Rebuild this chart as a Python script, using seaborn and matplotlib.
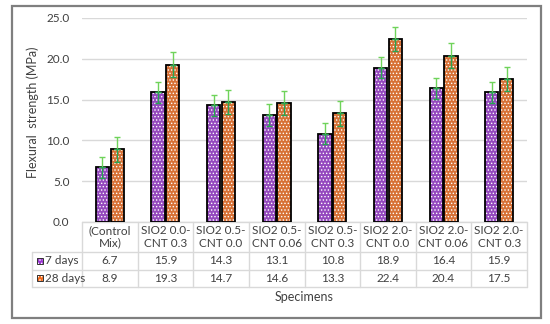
# Flexural strength chart with Excel-style data table
import pandas as pd
import matplotlib.pyplot as plt
import seaborn as sns
from matplotlib.patches import Rectangle

# Data
specimens = ['(Control\nMix)', 'SIO2 0.0-\nCNT 0.3', 'SIO2 0.5-\nCNT 0.0', 'SIO2 0.5-\nCNT 0.06',
             'SIO2 0.5-\nCNT 0.3', 'SIO2 2.0-\nCNT 0.0', 'SIO2 2.0-\nCNT 0.06', 'SIO2 2.0-\nCNT 0.3']
days7 = [6.7, 15.9, 14.3, 13.1, 10.8, 18.9, 16.4, 15.9]
days28 = [8.9, 19.3, 14.7, 14.6, 13.3, 22.4, 20.4, 17.5]
err7 = [1.3, 1.3, 1.3, 1.3, 1.3, 1.3, 1.3, 1.3]
err28 = [1.5, 1.5, 1.5, 1.5, 1.5, 1.5, 1.5, 1.5]
series = ['7 days', '28 days']
colors = ['#9A35D2', '#F26A1B']
yticks = [0, 5, 10, 15, 20, 25]

sns.set_style('white')
plt.rcParams['font.family'] = ['Lato', 'DejaVu Sans']
plt.rcParams['hatch.linewidth'] = 0.6
txt = '#404040'
grid = '#D9D9D9'
fs = 8.5

df = pd.DataFrame({
    'Specimen': specimens * 2,
    'Age': [series[0]] * 8 + [series[1]] * 8,
    'Strength': days7 + days28,
})

fig = plt.figure(figsize=(5.5, 3.24), dpi=100)
ax = fig.add_axes([82 / 550, 1 - 222 / 324, 445 / 550, 204 / 324])

sns.barplot(data=df, x='Specimen', y='Strength', hue='Age', palette=colors,
            width=0.53, gap=0.1, errorbar=None, legend=False, ax=ax, zorder=2)

# hatch pattern in white, then black outline on top
for p in list(ax.patches):
    p.set_hatch('.....')
    p.set_edgecolor('white')
    p.set_linewidth(0)
    ax.add_patch(Rectangle(p.get_xy(), p.get_width(), p.get_height(), fill=False,
                           edgecolor='black', lw=1.3, zorder=3))

# error bars (two shades of green like the original)
for i, (vals, errs) in enumerate([(days7, err7), (days28, err28)]):
    bars = ax.containers[i]
    xs = [b.get_x() + b.get_width() / 2 for b in bars]
    ax.errorbar(xs, vals, yerr=[[0] * 8, errs], fmt='none', ecolor='#6FD35A',
                elinewidth=1, capsize=2.2, capthick=1, zorder=4)
    ax.errorbar(xs, vals, yerr=[errs, [0] * 8], fmt='none', ecolor='#27A552',
                elinewidth=1, capsize=2.2, capthick=1, zorder=4)

ax.set_ylim(0, 25)
ax.set_xlim(-0.5, 7.5)
ax.set_yticks(yticks)
ax.set_yticklabels([f'{v:.1f}' for v in yticks], color=txt, fontsize=fs)
ax.tick_params(axis='y', length=0, pad=9)
ax.set_xticks([])
ax.set_xlabel('')
ax.set_ylabel('')
ax.yaxis.grid(True, color=grid, lw=1, zorder=0)
ax.set_axisbelow(True)
for s in ['top', 'right', 'left', 'bottom']:
    ax.spines[s].set_visible(False)

# data table under the axis
tr = ax.get_xaxis_transform()
row_y = [0, -0.147, -0.235, -0.319]
ax.plot([-0.5, 7.5], [0, 0], transform=tr, color=grid, lw=1, clip_on=False)
for yy in row_y[1:]:
    ax.plot([-1.4, 7.5], [yy, yy], transform=tr, color=grid, lw=1, clip_on=False)
for k in range(9):
    ax.plot([k - 0.5, k - 0.5], [0, row_y[-1]], transform=tr, color=grid, lw=1, clip_on=False)
ax.plot([-1.4, -1.4], [row_y[1], row_y[-1]], transform=tr, color=grid, lw=1, clip_on=False)

for k, name in enumerate(specimens):
    ax.text(k, -0.073, name, transform=tr, ha='center', va='center', fontsize=fs,
            color=txt, linespacing=1.2)
    ax.text(k, -0.19, f'{days7[k]:.1f}', transform=tr, ha='center', va='center',
            fontsize=fs, color=txt)
    ax.text(k, -0.276, f'{days28[k]:.1f}', transform=tr, ha='center', va='center',
            fontsize=fs, color=txt)

for yc, lab, c in [(-0.19, series[0], colors[0]), (-0.276, series[1], colors[1])]:
    ax.add_patch(Rectangle((-1.31, yc - 0.014), 0.11, 0.028, transform=tr, clip_on=False,
                           facecolor=c, hatch='.....', edgecolor='white', lw=0))
    ax.add_patch(Rectangle((-1.31, yc - 0.014), 0.11, 0.028, transform=tr, clip_on=False,
                           fill=False, edgecolor='#333333', lw=0.7))
    ax.text(-1.17, yc, lab, transform=tr, ha='left', va='center', fontsize=fs, color=txt)

fig.text(304 / 550, 1 - 297 / 324, 'Specimens', ha='center', va='center', fontsize=9, color=txt)
fig.text(33 / 550, 1 - 112 / 324, 'Flexural  strength (MPa)', rotation=90,
         ha='center', va='center', fontsize=9, color=txt)

# outer chart border
fig.add_artist(Rectangle((12 / 550, 6 / 324), 529 / 550, 312 / 324, transform=fig.transFigure,
                         fill=False, edgecolor='#7F7F7F', lw=1.6))

fig.savefig('out.png', dpi=100)
